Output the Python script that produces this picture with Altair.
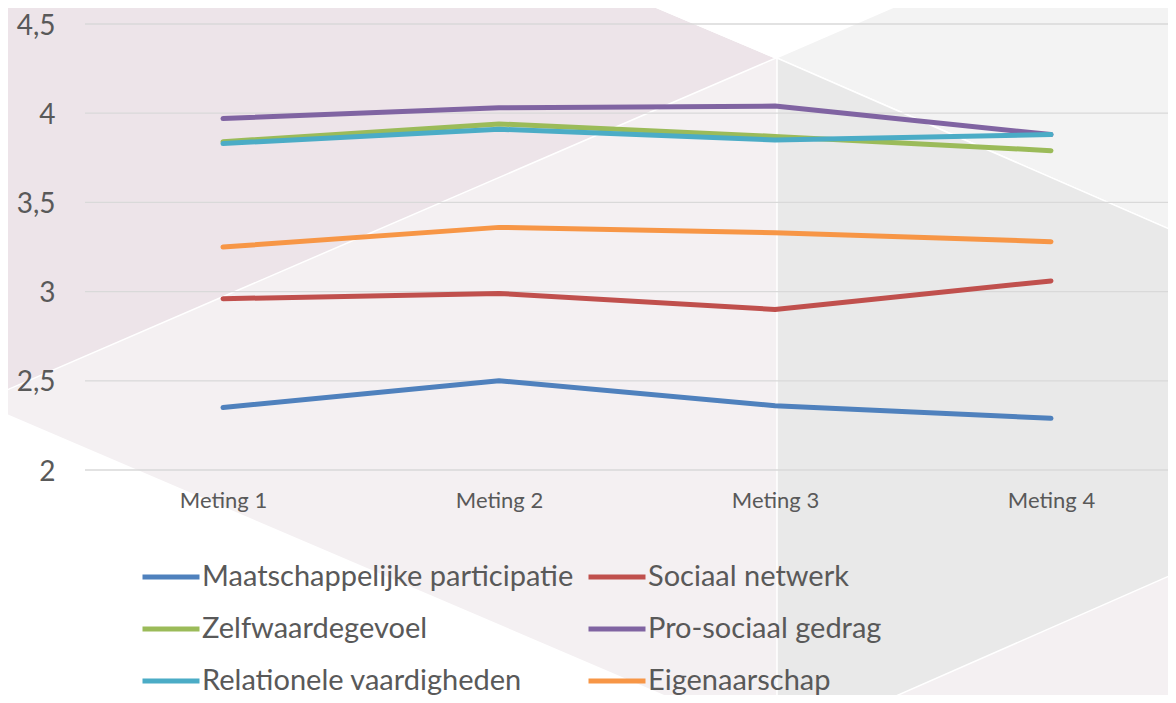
import json
import altair as alt
import pandas as pd

# ---- data ----
categories = ["Meting 1", "Meting 2", "Meting 3", "Meting 4"]
series_names = [
    "Maatschappelijke participatie",
    "Sociaal netwerk",
    "Zelfwaardegevoel",
    "Pro-sociaal gedrag",
    "Relationele vaardigheden",
    "Eigenaarschap",
]
maatschappelijke_participatie = [2.35, 2.50, 2.36, 2.29]
sociaal_netwerk = [2.96, 2.99, 2.90, 3.06]
zelfwaardegevoel = [3.84, 3.94, 3.87, 3.79]
pro_sociaal_gedrag = [3.97, 4.03, 4.04, 3.88]
relationele_vaardigheden = [3.83, 3.91, 3.85, 3.88]
eigenaarschap = [3.25, 3.36, 3.33, 3.28]
series_values = [
    maatschappelijke_participatie,
    sociaal_netwerk,
    zelfwaardegevoel,
    pro_sociaal_gedrag,
    relationele_vaardigheden,
    eigenaarschap,
]
series_colors = ["#4f81bd", "#c0504d", "#9bbb59", "#8064a2", "#4bacc6", "#f79646"]
y_ticks = [2, 2.5, 3, 3.5, 4, 4.5]

rows = []
for si, (name, vals) in enumerate(zip(series_names, series_values)):
    for ci, v in enumerate(vals):
        rows.append({"serie": name, "x": ci + 1, "waarde": v})
df = pd.DataFrame(rows)

# legend is filled column by column: reorder so it reads row by row
n_cols = 2
n_rows = (len(series_names) + n_cols - 1) // n_cols
legend_order = [series_names[r * n_cols + c] for c in range(n_cols) for r in range(n_rows)]
legend_colors = [series_colors[series_names.index(s)] for s in legend_order]

# ---- layout ----
W, H = 1083, 446
PAD_L, PAD_T = 77, 16
X_MIN = 0.5
STEP = 276.0
X_MAX = X_MIN + W / STEP
Y_MIN, Y_MAX = 2.0, 4.5
PX_PER_UNIT = H / (Y_MAX - Y_MIN)
ORIGIN_X, ORIGIN_Y = 8 + PAD_L, 8 + PAD_T


def px_to_x(px):
    return X_MIN + (px - ORIGIN_X) / STEP


def py_to_y(py):
    return Y_MAX - (py - ORIGIN_Y) / PX_PER_UNIT


# ---- decorative background polygons (page pixel outlines) ----
bg_regions = [
    ("roze", "#ede4e9", [0, 639, 776], [0, 0, 58], [393, 117, 58]),
    ("wit_boven", "#ffffff", [639, 776, 910], [0, 0, 0], [0, 58, 0]),
    ("lichtgrijs", "#f3f3f3", [776, 910, 1176], [58, 0, 0], [58, 116, 232]),
    ("grijs", "#e9e9e9", [777, 880, 1176], [58, 103, 232], [703, 703, 573]),
    ("wit_onder", "#ffffff", [0, 681], [412, 703], [703, 703]),
]
bg_rows = []
for name, col, xs, tops, bots in bg_regions:
    for xp, t, b in zip(xs, tops, bots):
        bg_rows.append({"regio": name, "kleur": col, "bx": px_to_x(xp),
                        "by": py_to_y(t), "by2": py_to_y(b)})
bg_df = pd.DataFrame(bg_rows)

FONT = "Lato"
TEXT_COLOR = "#595959"

x_scale = alt.Scale(domain=[X_MIN, X_MAX], nice=False, zero=False)
y_scale = alt.Scale(domain=[Y_MIN, Y_MAX], nice=False, zero=False)

x_axis = alt.Axis(
    values=list(range(1, len(categories) + 1)),
    labelExpr=json.dumps(categories) + "[datum.value - 1]",
    title=None,
    grid=False,
    domain=False,
    ticks=False,
    labelFont=FONT,
    labelFontSize=22,
    labelColor=TEXT_COLOR,
    labelPadding=20,
    zindex=1,
)
y_axis = alt.Axis(
    values=y_ticks,
    labelExpr="replace(toString(datum.value), '.', ',')",
    title=None,
    grid=False,
    domain=False,
    ticks=False,
    labelFont=FONT,
    labelFontSize=28,
    labelColor=TEXT_COLOR,
    labelPadding=30,
    labelOffset=2,
    zindex=1,
)

background = alt.Chart(bg_df).mark_area(stroke="white", strokeWidth=1.5, clip=False).encode(
    x=alt.X("bx:Q", scale=x_scale, axis=x_axis),
    y=alt.Y("by:Q", scale=y_scale, axis=y_axis),
    y2="by2:Q",
    fill=alt.Fill("kleur:N", scale=None),
    detail="regio:N",
)

grid = alt.Chart(pd.DataFrame({"tick": y_ticks})).mark_rule(color="#d9d9d9", strokeWidth=1.3).encode(
    y=alt.Y("tick:Q", scale=y_scale, axis=y_axis),
    x=alt.value(0),
    x2=alt.value(W),
)

lines = alt.Chart(df).mark_line(strokeWidth=5, strokeCap="round", strokeJoin="round").encode(
    x=alt.X("x:Q", scale=x_scale, axis=x_axis),
    y=alt.Y("waarde:Q", scale=y_scale, axis=y_axis),
    color=alt.Color(
        "serie:N",
        scale=alt.Scale(domain=legend_order, range=legend_colors),
        legend=alt.Legend(
            title=None,
            orient="none",
            legendX=55,
            legendY=522,
            columns=n_cols,
            columnPadding=4,
            rowPadding=6,
            padding=0,
            symbolType="stroke",
            symbolSize=3249,
            symbolStrokeWidth=5,
            labelFont=FONT,
            labelFontSize=29,
            labelColor=TEXT_COLOR,
            labelOffset=0,
            labelLimit=0,
            zindex=1,
        ),
    ),
)

chart = (
    alt.layer(background, grid, lines)
    .properties(
        width=W,
        height=H,
        autosize=alt.AutoSizeParams(type="none"),
        padding={"left": PAD_L, "top": PAD_T, "right": 0, "bottom": 687 - PAD_T - H},
        background="#f4f0f2",
    )
    .configure_view(stroke=None)
)

chart.save("out.html", embed_options={"renderer": "svg", "actions": False})
